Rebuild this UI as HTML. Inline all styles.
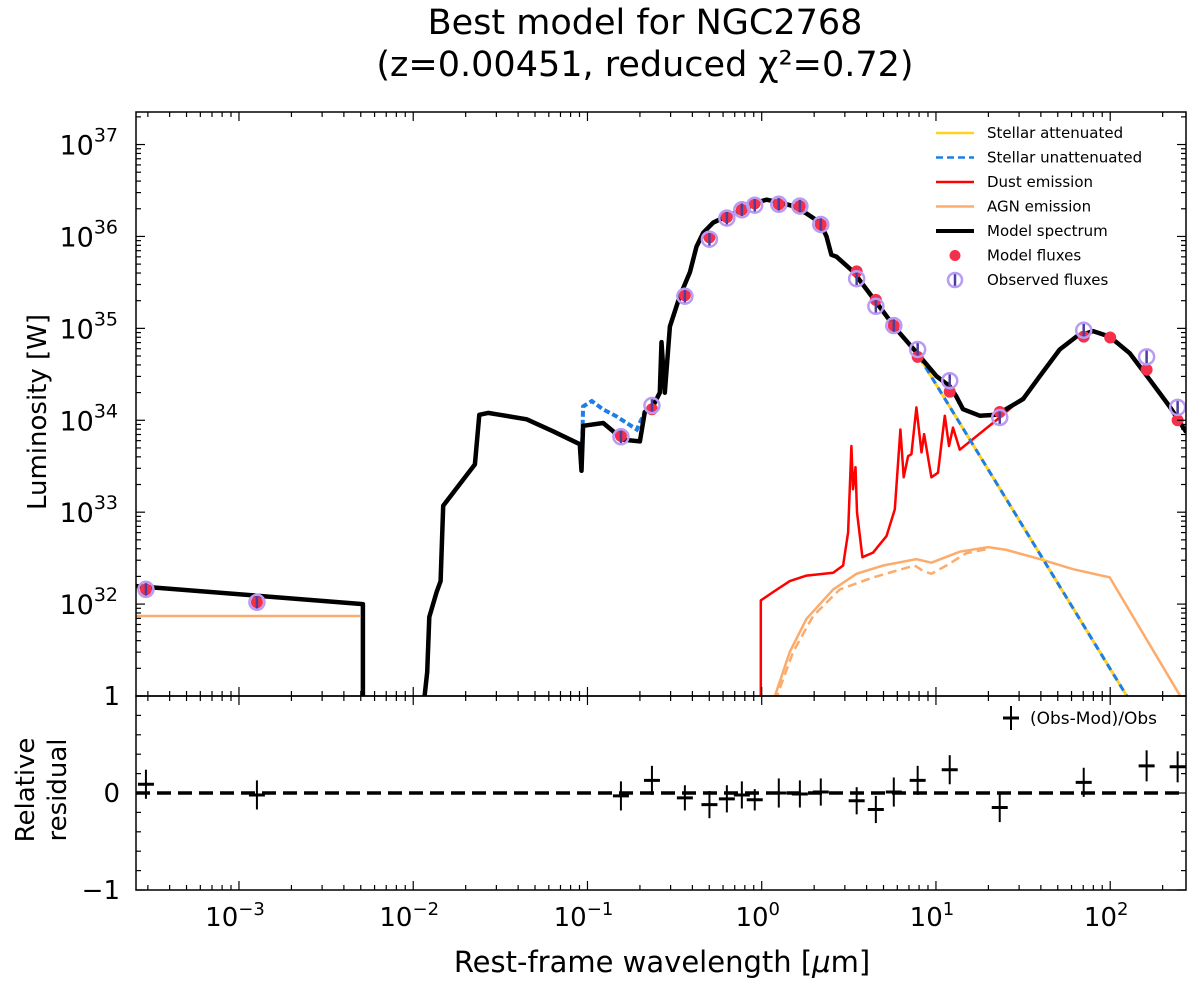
<!DOCTYPE html>
<html><head><meta charset="utf-8">
<style>
html,body{margin:0;padding:0;background:#fff;}
svg{display:block;font-family:"DejaVu Sans","Liberation Sans",sans-serif;}
</style></head>
<body>
<svg id="chart" width="1200" height="986" viewBox="0 0 1200 986" xmlns="http://www.w3.org/2000/svg">
<text x="645" y="34" text-anchor="middle" font-size="35">Best model for NGC2768</text>
<text x="645" y="76" text-anchor="middle" font-size="35">(z=0.00451, reduced χ²=0.72)</text>
<text transform="translate(46,412) rotate(-90)" text-anchor="middle" font-size="26">Luminosity [W]</text>
<text transform="translate(34,790) rotate(-90)" text-anchor="middle" font-size="26">Relative</text>
<text transform="translate(66,790) rotate(-90)" text-anchor="middle" font-size="26">residual</text>
<text x="662" y="972" text-anchor="middle" font-size="29">Rest-frame wavelength [<tspan font-style="italic">μ</tspan>m]</text>
<g id="plot"></g>
</svg>
<script>
// ---- data (log10 wavelength [um], log10 luminosity [W]) ----
const modelLogW = [-3.591,-2.289,-2.289,null,-1.946,-1.920,-1.908,-1.866,-1.843,-1.828,-1.646,-1.621,-1.570,-1.503,-1.349,-1.197,-1.044,-1.034,-1.025,-0.910,-0.795,-0.699,-0.671,-0.625,-0.585,-0.575,-0.556,-0.527,-0.470,-0.412,-0.374,-0.336,-0.279,-0.202,-0.107,-0.011,0.028,0.104,0.180,0.257,0.336,0.372,0.400,0.429,0.524,0.659,0.773,0.888,1.003,1.079,1.117,1.155,1.251,1.347,1.500,1.596,1.710,1.806,1.901,1.997,2.112,2.227,2.341,2.437];
const modelLogL = [32.196,32.00,30.8,null,30.8,31.26,31.86,32.13,32.25,33.07,33.52,34.06,34.08,34.06,34.01,33.88,33.74,33.45,33.94,33.97,33.79,33.77,34.09,34.15,34.30,34.85,34.30,35.02,35.35,35.61,35.89,36.04,36.15,36.22,36.29,36.38,36.40,36.37,36.33,36.25,36.15,36.00,35.80,35.78,35.62,35.28,34.99,34.74,34.48,34.37,34.26,34.12,34.05,34.06,34.23,34.48,34.77,34.91,34.97,34.91,34.73,34.44,34.15,33.87];
const stellarUvLogW = [-1.034,-1.025,-0.975,-0.912,-0.831,-0.717,-0.671];
const stellarUvLogL = [33.45,34.15,34.21,34.12,34.04,33.90,34.09];
const stellarTailLogW = [0.773,0.888,2.095];
const stellarTailLogL = [34.99,34.74,31.0];
const dustLogW = [-0.005,-0.005,0.065,0.161,0.257,0.410,0.467,0.496,0.515,0.524,0.538,0.547,0.578,0.639,0.716,0.764,0.796,0.815,0.840,0.859,0.888,0.917,0.932,0.974,1.012,1.051,1.075,1.098,1.137,1.366,1.519,1.596,1.710,1.806,1.901,1.997,2.112,2.227,2.341,2.437];
const dustLogL = [30.8,32.04,32.13,32.25,32.31,32.34,32.42,32.78,33.72,33.25,33.49,33.00,32.51,32.56,32.74,33.03,33.90,33.38,33.61,33.63,34.14,33.65,33.85,33.38,33.43,34.05,33.72,33.92,33.68,34.03,34.28,34.47,34.76,34.90,34.96,34.90,34.72,34.43,34.14,33.86];
const agnXLogW = [-3.591,-2.306];
const agnXLogL = [31.87,31.87];
const agnLogW = [0.040,0.161,0.257,0.410,0.544,0.697,0.888,0.974,1.137,1.299,1.404,1.596,1.787,1.997,2.418];
const agnLogL = [30.8,31.48,31.84,32.16,32.33,32.42,32.49,32.45,32.57,32.62,32.59,32.49,32.38,32.29,30.95];
const agnDashLogW = [0.050,0.180,0.295,0.448,0.639,0.878,0.926,0.974,1.060,1.175,1.299];
const agnDashLogL = [30.8,31.48,31.87,32.16,32.29,32.42,32.36,32.33,32.42,32.555,32.60];
// photometry
const bandLogW = [-3.534,-2.897,-0.808,-0.630,-0.441,-0.300,-0.200,-0.114,-0.040,0.098,0.219,0.339,0.545,0.655,0.758,0.895,1.079,1.366,1.848,2.209,2.387];
const obsLogL = [32.16,32.02,33.82,34.16,35.35,35.97,36.20,36.29,36.34,36.35,36.33,36.13,35.54,35.24,35.03,34.77,34.43,34.03,34.98,34.69,34.14];
const modLogL = [32.16,32.02,33.83,34.12,35.36,35.99,36.21,36.29,36.36,36.35,36.33,36.13,35.62,35.31,35.03,34.69,34.31,34.09,34.91,34.55,34.00];
const extraModLogW = [2.0];
const extraModLogL = [34.90];
const residual = [0.09,-0.02,-0.03,0.13,-0.05,-0.12,-0.06,-0.02,-0.07,0.0,-0.01,0.01,-0.08,-0.17,0.01,0.13,0.24,-0.15,0.11,0.28,0.27];
const residualErr = [0.15,0.15,0.15,0.15,0.13,0.14,0.14,0.14,0.11,0.15,0.14,0.14,0.14,0.14,0.15,0.15,0.15,0.15,0.15,0.16,0.16];

// ---- axes ----
const L=136,R=1186,T=112,M=696,B=890;
const xMin=-3.591, xMax=2.435, yMin=31, yMax=37.354;
const X = lw => L + (lw-xMin)/(xMax-xMin)*(R-L);
const Y = ll => M - (ll-yMin)/(yMax-yMin)*(M-T);
const YR = r => 793 - r*97;
const NS="http://www.w3.org/2000/svg";
const plot=document.getElementById('plot');
function mk(tag,attrs,parent){const e=document.createElementNS(NS,tag);for(const k in attrs)e.setAttribute(k,attrs[k]);(parent||plot).appendChild(e);return e;}
function pathD(ws,ls,fy){let d='',pen=false;for(let i=0;i<ws.length;i++){if(ws[i]===null){pen=false;continue;}d+=(pen?'L':'M')+X(ws[i]).toFixed(1)+','+fy(ls[i]).toFixed(1);pen=true;}return d;}

const defs=mk('defs',{});
const cp=mk('clipPath',{id:'clipTop'},defs);mk('rect',{x:L,y:T,width:R-L,height:M-T},cp);
const cp2=mk('clipPath',{id:'clipBot'},defs);mk('rect',{x:L,y:M,width:R-L,height:B-M},cp2);
const gTop=mk('g',{'clip-path':'url(#clipTop)'});



let p;
p=mk('path',{d:pathD(agnXLogW,agnXLogL,Y),fill:'none',stroke:'#fdab6b','stroke-width':2.5},gTop);

p=mk('path',{d:pathD(agnDashLogW,agnDashLogL,Y),fill:'none',stroke:'#fdab6b','stroke-width':2.5,'stroke-dasharray':'9,5'},gTop);

p=mk('path',{d:pathD(agnLogW,agnLogL,Y),fill:'none',stroke:'#fdab6b','stroke-width':2.5},gTop);

p=mk('path',{d:pathD(dustLogW,dustLogL,Y),fill:'none',stroke:'#f00','stroke-width':2.5,'stroke-linejoin':'round'},gTop);

p=mk('path',{d:pathD(stellarTailLogW,stellarTailLogL,Y),fill:'none',stroke:'#ffd21f','stroke-width':3},gTop);

p=mk('path',{d:pathD(stellarTailLogW,stellarTailLogL,Y),fill:'none',stroke:'#1e7ee8','stroke-width':3,'stroke-dasharray':'7,5'},gTop);

p=mk('path',{d:pathD(stellarUvLogW,stellarUvLogL,Y),fill:'none',stroke:'#1e7ee8','stroke-width':4,'stroke-dasharray':'6,3'},gTop);

p=mk('path',{d:pathD(modelLogW,modelLogL,Y),fill:'none',stroke:'#000','stroke-width':4.5,'stroke-linejoin':'round'},gTop);


for(let i=0;i<bandLogW.length;i++){
  const c=mk('circle',{cx:X(bandLogW[i]),cy:Y(modLogL[i]),r:6,fill:'#f5304a'},gTop);
  
}
for(let i=0;i<extraModLogW.length;i++){
  const c=mk('circle',{cx:X(extraModLogW[i]),cy:Y(extraModLogL[i]),r:6,fill:'#f5304a'},gTop);
  
}
for(let i=0;i<bandLogW.length;i++){
  const x=X(bandLogW[i]),y=Y(obsLogL[i]);
  const g=mk('g',{},gTop);
  
  mk('line',{x1:x,y1:y-7,x2:x,y2:y+7,stroke:'#4a3fa0','stroke-width':2.5},g);
  mk('circle',{cx:x,cy:y,r:7.5,fill:'none',stroke:'#b99af5','stroke-width':2.5},g);
}

// residual panel
const gBot=mk('g',{'clip-path':'url(#clipBot)'});

p=mk('line',{x1:L,y1:YR(0),x2:R,y2:YR(0),stroke:'#000','stroke-width':3.5,'stroke-dasharray':'14,7'},gBot);

for(let i=0;i<bandLogW.length;i++){
  const x=X(bandLogW[i]),y=YR(residual[i]),e=residualErr[i]*97;
  const g=mk('g',{},gBot);
  
  mk('line',{x1:x,y1:y-e,x2:x,y2:y+e,stroke:'#000','stroke-width':2},g);
  mk('line',{x1:x-8,y1:y,x2:x+8,y2:y,stroke:'#000','stroke-width':3},g);
}

// frames
p=mk('rect',{x:L,y:T,width:R-L,height:M-T,fill:'none',stroke:'#000','stroke-width':1.5});

p=mk('rect',{x:L,y:M,width:R-L,height:B-M,fill:'none',stroke:'#000','stroke-width':1.5});


// x ticks
const xTickExps=[-3,-2,-1,0,1,2];
const xTickLabels=['10','10','10','10','10','10'];
const xTickSups=['−3','−2','−1','0','1','2'];
const tk=mk('g',{stroke:'#000','stroke-width':1.2});

for(let e=-4;e<=2;e++){for(let m=1;m<10;m++){const lw=e+Math.log10(m);if(lw<xMin||lw>xMax)continue;const x=X(lw),len=m===1?9:5;
  [[T,1],[M,-1],[M,1],[B,-1]].forEach(([y0,d])=>mk('line',{x1:x,y1:y0,x2:x,y2:y0+d*len},tk));}}
xTickExps.forEach((e,i)=>{const t=mk('text',{x:X(e)-4,y:B+36,'text-anchor':'middle','font-size':26});
  
  t.textContent=xTickLabels[i];const s=mk('tspan',{'font-size':18,dy:-11},t);s.textContent=xTickSups[i];});
// y ticks top
const yTickExps=[32,33,34,35,36,37];
for(let e=31;e<=37;e++){for(let m=1;m<10;m++){const ll=e+Math.log10(m);if(ll<yMin||ll>yMax)continue;const y=Y(ll),len=m===1?9:5;
  mk('line',{x1:L,y1:y,x2:L+len,y2:y},tk);mk('line',{x1:R,y1:y,x2:R-len,y2:y},tk);}}
yTickExps.forEach(e=>{const t=mk('text',{x:118,y:Y(e)+10,'text-anchor':'end','font-size':27});
  
  t.textContent='10';const s=mk('tspan',{'font-size':19,dy:-13},t);s.textContent=String(e);});
// residual ticks
const resTicks=[1,0,-1];
const resLabels=['1','0','−1'];
for(let r=-1;r<=1.001;r+=0.2){const y=YR(r),len=Math.abs(Math.round(r*5))%5===0?9:5;
  mk('line',{x1:L,y1:y,x2:L+len,y2:y},tk);mk('line',{x1:R,y1:y,x2:R-len,y2:y},tk);}
resTicks.forEach((r,i)=>{const t=mk('text',{x:120,y:YR(r)+9,'text-anchor':'end','font-size':26});
  t.textContent=resLabels[i];});

// legend
const legend=mk('g',{'font-size':15});

const legItems=[['Stellar attenuated','#ffd21f','line',''],['Stellar unattenuated','#1e7ee8','line','7,4'],['Dust emission','#f00','line',''],['AGN emission','#fdab6b','line',''],['Model spectrum','#000','thick',''],['Model fluxes','#f5304a','dot',''],['Observed fluxes','#b99af5','obs','']];
legItems.forEach((it,i)=>{const y=133+i*24.5;const g=mk('g',{},legend);
  
  if(it[2]==='line'||it[2]==='thick'){const a={x1:936,y1:y,x2:974,y2:y,stroke:it[1],'stroke-width':it[2]==='thick'?4:2.5};if(it[3])a['stroke-dasharray']=it[3];mk('line',a,g);}
  else if(it[2]==='dot'){mk('circle',{cx:955,cy:y,r:5.5,fill:it[1]},g);}
  else{mk('line',{x1:955,y1:y-7,x2:955,y2:y+7,stroke:'#4a3fa0','stroke-width':2.5},g);mk('circle',{cx:955,cy:y,r:7,fill:'none',stroke:it[1],'stroke-width':2.5},g);}
  const t=mk('text',{x:987,y:y+5},g);t.textContent=it[0];});
const rl=mk('g',{});

mk('line',{x1:1011,y1:706,x2:1011,y2:730,stroke:'#000','stroke-width':2},rl);
mk('line',{x1:1003,y1:718,x2:1019,y2:718,stroke:'#000','stroke-width':3},rl);
const rt=mk('text',{x:1030,y:724,'font-size':17},rl);rt.textContent='(Obs-Mod)/Obs';
</script>
</body></html>
